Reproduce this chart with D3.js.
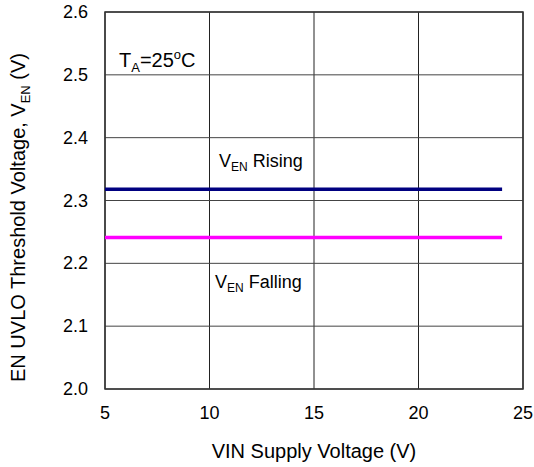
<!DOCTYPE html>
<meta charset="utf-8">
<head>
  <style>
    body { margin: 0; background: #fff; }
    text { font-family: "Liberation Sans", Arial, sans-serif; fill: #000; }
  </style>
</head>
<body>
<div id="my_dataviz"></div>
<script src="https://d3js.org/d3.v7.min.js"></script>
<script>

// data
var vin = [5, 12, 19, 24];
var venRising = [2.318, 2.318, 2.318, 2.318];
var venFalling = [2.241, 2.241, 2.241, 2.241];
var xTicks = [5, 10, 15, 20, 25];
var yTicks = [2.0, 2.1, 2.2, 2.3, 2.4, 2.5, 2.6];

var margin = {top: 12, right: 11, bottom: 78, left: 105},
    width = 534 - margin.left - margin.right,
    height = 467 - margin.top - margin.bottom;

var svg = d3.select("#my_dataviz")
  .append("svg")
    .attr("width", 534)
    .attr("height", 467)
  .append("g")
    .attr("transform", "translate(" + margin.left + "," + margin.top + ")");

var x = d3.scaleLinear().domain([5, 25]).range([0, width]);
var y = d3.scaleLinear().domain([2.0, 2.6]).range([height, 0]);

// grid
svg.append("g")
  .selectAll("line")
  .data(xTicks)
  .enter().append("line")
    .attr("x1", function(d) { return x(d); })
    .attr("x2", function(d) { return x(d); })
    .attr("y1", 0).attr("y2", height)
    .attr("stroke", "#222").attr("stroke-width", 1);

svg.append("g")
  .selectAll("line")
  .data(yTicks)
  .enter().append("line")
    .attr("x1", 0).attr("x2", width)
    .attr("y1", function(d) { return y(d); })
    .attr("y2", function(d) { return y(d); })
    .attr("stroke", "#444").attr("stroke-width", 1);

svg.append("rect")
  .attr("width", width).attr("height", height)
  .attr("fill", "none").attr("stroke", "#333").attr("stroke-width", 1.5);

// tick labels
svg.append("g")
  .selectAll("text")
  .data(xTicks)
  .enter().append("text")
    .attr("x", function(d) { return x(d); })
    .attr("y", height + 30)
    .attr("text-anchor", "middle")
    .style("font-size", "18px")
    .text(function(d) { return d; });

svg.append("g")
  .selectAll("text")
  .data(yTicks)
  .enter().append("text")
    .attr("x", -17)
    .attr("y", function(d) { return y(d) + 6; })
    .attr("text-anchor", "end")
    .style("font-size", "18px")
    .text(function(d) { return d.toFixed(1); });

// axis titles
svg.append("text")
  .attr("x", width / 2)
  .attr("y", height + 69)
  .attr("text-anchor", "middle")
  .style("font-size", "20px")
  .text("VIN Supply Voltage (V)");

var yt = svg.append("text")
  .attr("transform", "translate(-80," + (height / 2 + 17) + ") rotate(-90)")
  .attr("text-anchor", "middle")
  .style("font-size", "20px");
yt.append("tspan").text("EN UVLO Threshold Voltage, V");
yt.append("tspan").attr("dy", 5).style("font-size", "13px").text("EN");
yt.append("tspan").attr("dy", -5).text(" (V)");

// lines
var line = d3.line()
  .x(function(d) { return x(d[0]); })
  .y(function(d) { return y(d[1]); });

svg.append("path")
  .datum(d3.zip(vin, venRising))
  .attr("d", line)
  .attr("fill", "none").attr("stroke", "#000080").attr("stroke-width", 3.5);

svg.append("path")
  .datum(d3.zip(vin, venFalling))
  .attr("d", line)
  .attr("fill", "none").attr("stroke", "#ff00ff").attr("stroke-width", 3.5);

// annotations
var ta = svg.append("text").attr("x", 14).attr("y", 55).style("font-size", "20px");
ta.append("tspan").text("T");
ta.append("tspan").attr("dy", 5).style("font-size", "13px").text("A");
ta.append("tspan").attr("dy", -5).text("=25");
ta.append("tspan").attr("dy", -8).style("font-size", "13px").text("o");
ta.append("tspan").attr("dy", 8).text("C");

var r = svg.append("text").attr("x", 114).attr("y", 155).style("font-size", "18px");
r.append("tspan").text("V");
r.append("tspan").attr("dy", 4).style("font-size", "12px").text("EN");
r.append("tspan").attr("dy", -4).text(" Rising");

var f = svg.append("text").attr("x", 110).attr("y", 276).style("font-size", "18px");
f.append("tspan").text("V");
f.append("tspan").attr("dy", 4).style("font-size", "12px").text("EN");
f.append("tspan").attr("dy", -4).text(" Falling");

</script>
</body>
